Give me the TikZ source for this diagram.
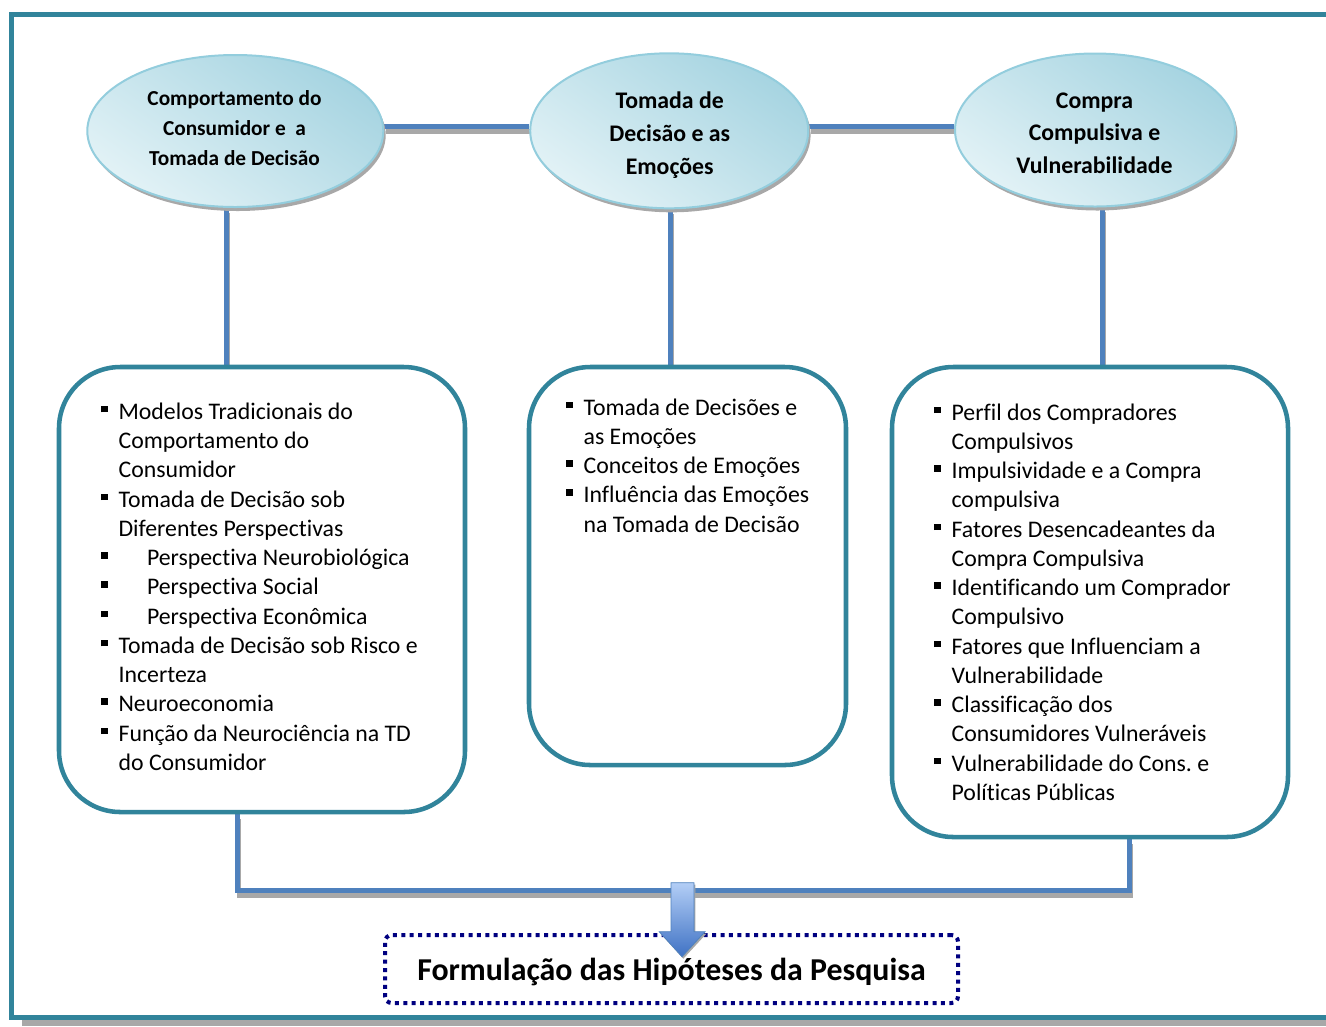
\documentclass[tikz,border=0pt]{standalone}
\usepackage{fontspec}
\setmainfont{Carlito}[Ligatures=CommonOff]
\usetikzlibrary{shapes.geometric,shadows,calc}
\pgfdeclarelayer{background}
\pgfsetlayers{background,main}
\definecolor{frameteal}{HTML}{31849B}
\definecolor{linkblue}{HTML}{4F81BD}
\definecolor{ovalrim}{HTML}{93CDDD}
\definecolor{ovallight}{HTML}{E2F2F6}
\definecolor{ovaldark}{HTML}{A6D4E1}
\definecolor{navydot}{HTML}{000080}
\definecolor{shadowgray}{HTML}{A8A8A8}
\definecolor{arrowtop}{HTML}{B3CEF6}
\definecolor{arrowbot}{HTML}{3F72C4}
\frenchspacing
% square list bullet and indentation helpers
\newcommand\sqbullet{\rule[5.2pt]{4.9pt}{4.9pt}}
\newcommand\itm{\makebox[13pt][l]{\sqbullet}}
\newcommand\ind{\hspace*{13pt}}
\newcommand\sub{\hspace*{21.3pt}}

\begin{document}
\begin{tikzpicture}[x=0.75pt,y=-0.75pt,
  oval/.style={ellipse, draw=ovalrim, line width=1.5pt, inner sep=0pt,
    top color=ovaldark, bottom color=ovallight, shading angle=-35,
    drop shadow={shadow xshift=1.8pt, shadow yshift=-3pt, fill=shadowgray, opacity=1}},
  topicbox/.style={draw=frameteal, line width=3.4pt, rounded corners=46pt,
    inner sep=0pt, fill=white},
  link/.style={draw=linkblue, line width=3.75pt, line join=miter},
  linkshadow/.style={draw=shadowgray, line width=3.5pt, line join=miter,
    transform canvas={xshift=1pt, yshift=-3.6pt}},
  listtext/.style={anchor=base west, inner sep=0pt,
    font=\fontsize{17.85}{21.94}\selectfont},
  ovaltext/.style={anchor=base, inner sep=0pt},
]
\useasboundingbox (0,0) rectangle (1326,1026);
\clip (0,0) rectangle (1326,1026);

% page frame and its shadow strip
\fill[shadowgray] (22,1019.6) rectangle (1326,1026);
\draw[frameteal, line width=3.75pt] (11.5,14.8) rectangle (1345,1017.5);

% topic ovals
\node[oval, minimum width=222pt, minimum height=114pt] (e1) at (235.3,131) {};
\node[oval, minimum width=208.5pt, minimum height=116.25pt] (e2) at (669.2,130.8) {};
\node[oval, minimum width=210pt, minimum height=114.75pt] (e3) at (1095,130) {};

\node[ovaltext, font=\fontsize{16}{22.5}\selectfont\bfseries] (t1) at (234.5,105)
  {\begin{tabular}[t]{@{}c@{}}Comportamento do\\Consumidor e\ \ a\\Tomada de Decisão\end{tabular}};
\node[ovaltext, font=\fontsize{17.85}{25}\selectfont\bfseries] (t2) at (669.7,108.3)
  {\begin{tabular}[t]{@{}c@{}}Tomada de\\Decisão e as\\Emoções\end{tabular}};
\node[ovaltext, font=\fontsize{17.85}{24.5}\selectfont\bfseries] (t3) at (1094.5,108.3)
  {\begin{tabular}[t]{@{}c@{}}Compra\\Compulsiva e\\Vulnerabilidade\end{tabular}};

% topic boxes
\node[topicbox, minimum width=304.5pt, minimum height=333.75pt] (b1) at (262,589.5) {};
\node[topicbox, minimum width=237.75pt, minimum height=298.5pt] (b2) at (687.5,566) {};
\node[topicbox, minimum width=297pt, minimum height=352.5pt] (b3) at (1090,602) {};

\node[listtext] (l1) at (101,419.3) {\begin{tabular}[t]{@{}l@{}}
\itm Modelos Tradicionais do\\
\ind Comportamento do\\
\ind Consumidor\\
\itm Tomada de Decisão sob\\
\ind Diferentes Perspectivas\\
\itm\sub Perspectiva Neurobiológica\\
\itm\sub Perspectiva Social\\
\itm\sub Perspectiva Econômica\\
\itm Tomada de Decisão sob Risco e\\
\ind Incerteza\\
\itm Neuroeconomia\\
\itm Função da Neurociência na TD\\
\ind do Consumidor
\end{tabular}};

\node[listtext] (l2) at (566,415) {\begin{tabular}[t]{@{}l@{}}
\itm Tomada de Decisões e\\
\ind as Emoções\\
\itm Conceitos de Emoções\\
\itm Influência das Emoções\\
\ind na Tomada de Decisão
\end{tabular}};

\node[listtext] (l3) at (934,420) {\begin{tabular}[t]{@{}l@{}}
\itm Perfil dos Compradores\\
\ind Compulsivos\\
\itm Impulsividade e a Compra\\
\ind compulsiva\\
\itm Fatores Desencadeantes da\\
\ind Compra Compulsiva\\
\itm Identificando um Comprador\\
\ind Compulsivo\\
\itm Fatores que Influenciam a\\
\ind Vulnerabilidade\\
\itm Classificação dos\\
\ind Consumidores Vulneráveis\\
\itm Vulnerabilidade do Cons. e\\
\ind Políticas Públicas
\end{tabular}};

% closing box
\node[draw=navydot, line width=3pt, dash pattern=on 3pt off 3.3pt, rounded corners=5pt,
  minimum width=429.75pt, minimum height=51pt, inner sep=0pt] (hyp) at (671.5,969) {};
\node[anchor=base, inner sep=0pt, font=\fontsize{23.9}{28}\selectfont\bfseries] (hyptext)
  at (671.5,980) {Formulação das Hipóteses da Pesquisa};

% guide coordinates for the connectors
\coordinate (hrow) at (0,126.7);
\coordinate (v1) at (226.5,0);
\coordinate (v2) at (670.8,0);
\coordinate (v3) at (1102.5,0);
\coordinate (j1) at (237.5,890.5);
\coordinate (j2) at (1129.8,890.5);

\begin{pgfonlayer}{background}
  \foreach \st in {linkshadow,link}{
    \draw[\st] (e1.east |- hrow) -- (e2.west |- hrow);
    \draw[\st] (e2.east |- hrow) -- (e3.west |- hrow);
    \draw[\st] (e1.south -| v1) -- (b1.north -| v1);
    \draw[\st] (e2.south -| v2) -- (b2.north -| v2);
    \draw[\st] (e3.south -| v3) -- (b3.north -| v3);
    \draw[\st] (b1.south -| j1) -- (j1) -- (j2) -- (b3.south -| j2);
  }
\end{pgfonlayer}

% block arrow into the closing box
\path[top color=arrowtop, bottom color=arrowbot, draw=linkblue, line width=0.6pt,
  drop shadow={shadow xshift=1pt, shadow yshift=-1.5pt, fill=shadowgray, opacity=1}]
  (671,882.7) -- (694,882.7) -- (694,931.7) -- (705,931.7) -- (682,956.7)
  -- (659.3,931.7) -- (671,931.7) -- cycle;
\end{tikzpicture}
\end{document}
